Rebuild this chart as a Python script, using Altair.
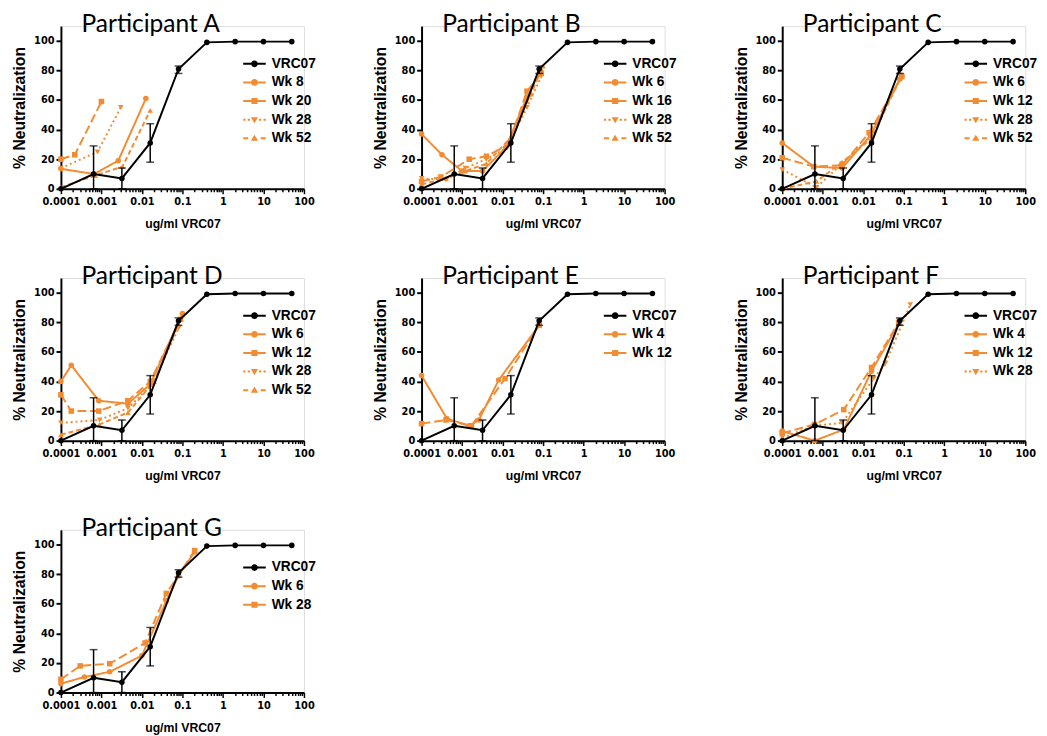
import altair as alt
import pandas as pd

ORANGE = "#F28C32"

# VRC07 reference curve (same in every panel)
VRC_X = [0.0001, 0.00064, 0.0032, 0.016, 0.08, 0.4, 2, 10, 50]
VRC_Y = [0, 10, 7, 31, 81, 99, 99.5, 99.5, 99.5]
ERR_X = [0.00064, 0.0032, 0.016, 0.08]
ERR_LO = [0, 0, 18, 78]
ERR_HI = [29, 14, 44, 83]

# Participant A
A_WK8_X = [0.0001, 0.00066, 0.0026, 0.0125]
A_WK8_Y = [13.5, 10, 19, 61]
A_WK20_X = [0.0001, 0.00022, 0.001]
A_WK20_Y = [20, 23, 59]
A_WK28_X = [0.0001, 0.0008, 0.003]
A_WK28_Y = [14, 25, 55]
A_WK52_X = [0.0001, 0.0007, 0.0033, 0.016]
A_WK52_Y = [1, 9, 15, 53]

# Participant B
B_WK6_X = [0.0001, 0.00032, 0.001, 0.0032, 0.012, 0.04, 0.085]
B_WK6_Y = [37, 23, 12, 12, 28, 62, 80]
B_WK16_X = [0.0001, 0.0003, 0.0015, 0.004, 0.014, 0.04, 0.09]
B_WK16_Y = [5, 8, 20, 22, 30, 66, 78]
B_WK28_X = [0.0001, 0.0004, 0.0012, 0.004, 0.013, 0.04, 0.09]
B_WK28_Y = [7, 6, 14, 20, 28, 55, 76]
B_WK52_X = [0.0001, 0.0004, 0.0012, 0.004, 0.015, 0.05, 0.1]
B_WK52_Y = [3, 7, 12, 17, 34, 64, 83]

# Participant C
C_WK6_X = [0.0001, 0.0006, 0.003, 0.015, 0.08]
C_WK6_Y = [31, 15, 14, 36, 74]
C_WK12_X = [0.0001, 0.0006, 0.003, 0.014, 0.09]
C_WK12_Y = [21, 15, 16, 38, 76]
C_WK28_X = [0.0001, 0.0007, 0.003, 0.015, 0.085]
C_WK28_Y = [13, 1, 17, 35, 75]
C_WK52_X = [0.0001, 0.0007, 0.003, 0.016, 0.09]
C_WK52_Y = [0, 5, 18, 34, 77]

# Participant D
D_WK6_X = [0.0001, 0.00018, 0.00086, 0.0045, 0.016, 0.1]
D_WK6_Y = [40, 51, 27, 25, 38, 86]
D_WK12_X = [0.0001, 0.00018, 0.00086, 0.0045, 0.016, 0.09]
D_WK12_Y = [31, 20, 20, 27, 40, 82]
D_WK28_X = [0.0001, 0.0009, 0.0045, 0.018, 0.08]
D_WK28_Y = [12, 14, 22, 38, 76]
D_WK52_X = [0.0001, 0.0009, 0.0045, 0.02, 0.1]
D_WK52_Y = [4, 11, 19, 40, 85]

# Participant E
E_WK4_X = [0.0001, 0.00042, 0.0015, 0.0026, 0.008, 0.08]
E_WK4_Y = [44, 15, 10, 14, 41, 78]
E_WK12_X = [0.0001, 0.0004, 0.0017, 0.0115, 0.08]
E_WK12_Y = [11.5, 14, 10, 42, 78]

# Participant F
F_WK4_X = [0.0001, 0.00063, 0.0033, 0.016, 0.075]
F_WK4_Y = [6.5, 0, 7.5, 47, 79]
F_WK12_X = [0.0001, 0.00063, 0.0033, 0.016, 0.075]
F_WK12_Y = [5, 11, 21, 49.5, 80]
F_WK28_X = [0.0001, 0.0006, 0.003, 0.018, 0.035, 0.145]
F_WK28_Y = [2, 10, 12, 42, 52, 92]

# Participant G
G_WK6_X = [0.0001, 0.00038, 0.0016, 0.01, 0.04, 0.08, 0.2]
G_WK6_Y = [6, 10.5, 14, 25, 62, 79, 95]
G_WK28_X = [0.0001, 0.0003, 0.0016, 0.012, 0.04, 0.2]
G_WK28_Y = [9, 18, 19.5, 33.5, 67, 96]

PANELS = [
    ("Participant A", [("Wk 8", A_WK8_X, A_WK8_Y), ("Wk 20", A_WK20_X, A_WK20_Y),
                       ("Wk 28", A_WK28_X, A_WK28_Y), ("Wk 52", A_WK52_X, A_WK52_Y)]),
    ("Participant B", [("Wk 6", B_WK6_X, B_WK6_Y), ("Wk 16", B_WK16_X, B_WK16_Y),
                       ("Wk 28", B_WK28_X, B_WK28_Y), ("Wk 52", B_WK52_X, B_WK52_Y)]),
    ("Participant C", [("Wk 6", C_WK6_X, C_WK6_Y), ("Wk 12", C_WK12_X, C_WK12_Y),
                       ("Wk 28", C_WK28_X, C_WK28_Y), ("Wk 52", C_WK52_X, C_WK52_Y)]),
    ("Participant D", [("Wk 6", D_WK6_X, D_WK6_Y), ("Wk 12", D_WK12_X, D_WK12_Y),
                       ("Wk 28", D_WK28_X, D_WK28_Y), ("Wk 52", D_WK52_X, D_WK52_Y)]),
    ("Participant E", [("Wk 4", E_WK4_X, E_WK4_Y), ("Wk 12", E_WK12_X, E_WK12_Y)]),
    ("Participant F", [("Wk 4", F_WK4_X, F_WK4_Y), ("Wk 12", F_WK12_X, F_WK12_Y),
                       ("Wk 28", F_WK28_X, F_WK28_Y)]),
    ("Participant G", [("Wk 6", G_WK6_X, G_WK6_Y), ("Wk 28", G_WK28_X, G_WK28_Y)]),
]

SHAPES = ["circle", "square", "triangle-down", "triangle-up"]
DASHES = [[1, 0], [9, 4], [2, 3], [5, 3]]

BAR = "M{a},-0.09H{b}V0.09H{a}Z"
LINE_PATHS = [
    BAR.format(a=-1, b=1),
    BAR.format(a=-1, b=-0.2) + " " + BAR.format(a=0.2, b=1),
    " ".join(BAR.format(a=a, b=a + 0.2) for a in [-1, -0.6, 0.4, 0.8]),
    BAR.format(a=-1, b=-0.55) + " " + BAR.format(a=0.55, b=1),
]
MARK_PATHS = [
    "M0.3,0A0.3,0.3 0 1,1 -0.3,0A0.3,0.3 0 1,1 0.3,0Z",
    "M-0.27,-0.27H0.27V0.27H-0.27Z",
    "M-0.32,-0.22H0.32L0,0.32Z",
    "M0,-0.32L0.32,0.22H-0.32Z",
]
LEG_VRC = LINE_PATHS[0] + " " + MARK_PATHS[0]

DECADE = "abs(log(datum.value)/LN10 - round(log(datum.value)/LN10)) < 0.001"
X_TICKS = [m * 10 ** e for e in range(-4, 2) for m in range(1, 10)] + [100]

LBL_FONT = "DejaVu Sans"
TTL_FONT = "Liberation Sans"
PW, PH = 248, 166

x_enc_axis = alt.Axis(
    values=X_TICKS, format="~g",
    labelExpr=f"{DECADE} ? datum.label : ''",
    labelFont=LBL_FONT, labelFontSize=10, labelFontWeight="bold", labelColor="black",
    labelOverlap=False, labelFlush=False, labelPadding=3,
    tickSize={"condition": {"test": DECADE, "value": 5}, "value": 3},
    tickWidth=1.5, tickColor="black", domainWidth=2, domainColor="black", grid=False,
    title="ug/ml VRC07", titleFont=TTL_FONT, titleFontSize=12.5, titleFontWeight="bold",
    titleColor="black", titlePadding=12,
)
y_enc_axis = alt.Axis(
    values=[0, 20, 40, 60, 80, 100],
    labelFont=LBL_FONT, labelFontSize=10, labelFontWeight="bold", labelColor="black",
    labelPadding=2, tickSize=5, tickWidth=2, tickColor="black",
    domainWidth=2, domainColor="black", grid=False,
    title="% Neutralization", titleFont=TTL_FONT, titleFontSize=16, titleFontWeight="bold",
    titleColor="black", titlePadding=6,
)

X = lambda: alt.X("x:Q", scale=alt.Scale(type="log", domain=[0.0001, 100], nice=False), axis=x_enc_axis)
Y = lambda f="y": alt.Y(f"{f}:Q", scale=alt.Scale(domain=[0, 110], nice=False), axis=y_enc_axis)

vrc_df = pd.DataFrame({"x": VRC_X, "y": VRC_Y})
err_df = pd.DataFrame({"x": ERR_X, "lo": ERR_LO, "hi": ERR_HI})
cap_df = pd.DataFrame({"x": ERR_X + ERR_X, "y": ERR_LO + ERR_HI})


def panel(title, series):
    rows = []
    for i, (lab, xs, ys) in enumerate(series):
        for xv, yv in zip(xs, ys):
            rows.append({"series": lab, "x": xv, "y": yv})
    df = pd.DataFrame(rows)
    labels = [s[0] for s in series]
    n = len(labels)

    lines = alt.Chart(df).mark_line(color=ORANGE, strokeWidth=2).encode(
        x=X(), y=Y(),
        strokeDash=alt.StrokeDash("series:N", scale=alt.Scale(domain=labels, range=DASHES[:n]), legend=None),
    )
    pts = alt.Chart(df).mark_point(filled=True, color=ORANGE, size=32, opacity=1).encode(
        x=X(), y=Y(),
        shape=alt.Shape("series:N", scale=alt.Scale(domain=labels, range=SHAPES[:n]), legend=None),
    )
    rule = alt.Chart(err_df).mark_rule(color="black", strokeWidth=1.5).encode(
        x=X(), y=Y("lo"), y2="hi:Q")
    caps = alt.Chart(cap_df).mark_tick(color="black", orient="horizontal", size=8, thickness=1.5).encode(
        x=X(), y=Y())
    vline = alt.Chart(vrc_df).mark_line(color="black", strokeWidth=2).encode(x=X(), y=Y())
    vpts = alt.Chart(vrc_df).mark_point(filled=True, color="black", size=32, opacity=1, shape="circle").encode(
        x=X(), y=Y())

    leg_domain = ["VRC07"] + labels
    leg_paths = [LEG_VRC] + [LINE_PATHS[i] + " " + MARK_PATHS[i] for i in range(n)]
    leg = alt.Chart(df).mark_point(filled=True, opacity=1).transform_filter("false").encode(
        shape=alt.Shape("series:N", scale=alt.Scale(domain=leg_domain, range=leg_paths),
                        legend=alt.Legend(title=None, orient="none", legendX=186, legendY=27,
                                          symbolSize=529, symbolStrokeWidth=0, rowPadding=0,
                                          labelFont=TTL_FONT, labelFontSize=14, labelFontWeight="bold",
                                          labelColor="black", labelOffset=6, padding=0)),
        color=alt.Color("series:N", scale=alt.Scale(domain=leg_domain, range=["black"] + [ORANGE] * n)),
    )

    ttl = alt.Chart(pd.DataFrame({"t": [title]})).mark_text(
        font="Lato", fontSize=25, color="black", align="left", baseline="alphabetic"
    ).encode(text="t:N", x=alt.value(21), y=alt.value(6))

    return alt.layer(lines, pts, rule, caps, vline, vpts, leg, ttl).resolve_scale(
        shape="independent", color="independent", strokeDash="independent"
    ).properties(width=PW, height=PH)


cells = [panel(t, s) for t, s in PANELS]
chart = alt.concat(*cells, columns=3, spacing={"row": 33, "column": 55}).resolve_scale(
    shape="independent", color="independent", strokeDash="independent"
).properties(
    padding={"left": 3, "top": -4, "right": 0, "bottom": 0}
).configure_view(stroke=None).configure(background="white")

chart.save("out.html", embed_options={"renderer": "svg", "actions": False})
